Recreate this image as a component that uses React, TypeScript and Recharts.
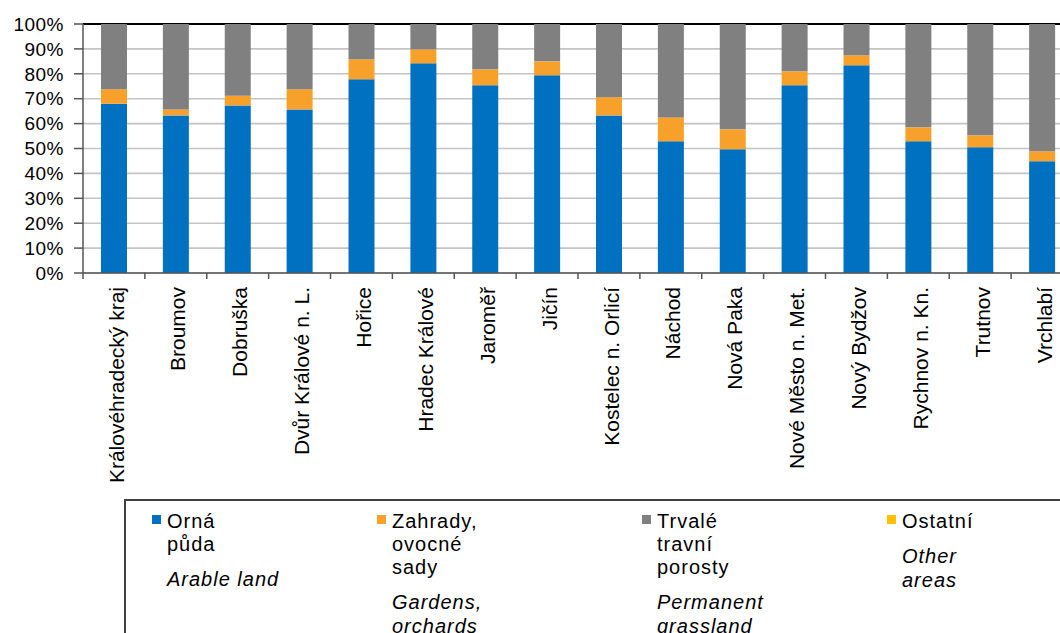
import { BarChart, Bar, XAxis, YAxis, CartesianGrid, Legend } from "recharts"

// okresy Královéhradeckého kraje
const categories = [
  "Královéhradecký kraj",
  "Broumov",
  "Dobruška",
  "Dvůr Králové n. L.",
  "Hořice",
  "Hradec Králové",
  "Jaroměř",
  "Jičín",
  "Kostelec n. Orlicí",
  "Náchod",
  "Nová Paka",
  "Nové Město n. Met.",
  "Nový Bydžov",
  "Rychnov n. Kn.",
  "Trutnov",
  "Vrchlabí",
]

// shares in %
const orna = [68.0, 63.3, 67.3, 65.7, 77.8, 84.2, 75.4, 79.4, 63.3, 52.9, 49.7, 75.4, 83.4, 52.9, 50.5, 44.9]
const zahrady = [5.8, 2.4, 3.9, 8.1, 8.0, 5.6, 6.4, 5.6, 7.3, 9.6, 8.0, 5.6, 4.0, 5.6, 4.8, 4.0]
const trvale = [26.2, 34.3, 28.8, 26.2, 14.2, 10.2, 18.2, 15.0, 29.4, 37.5, 42.3, 19.0, 12.6, 41.5, 44.7, 51.1]
const ostatni = [0, 0, 0, 0, 0, 0, 0, 0, 0, 0, 0, 0, 0, 0, 0, 0]

const yTicks = [0, 10, 20, 30, 40, 50, 60, 70, 80, 90, 100]

const seriesKeys = ["orna", "zahrady", "trvale", "ostatni"]
const seriesColors = ["#0070c0", "#f7a12a", "#808080", "#ffc000"]
const legendCz = [["Orná", "půda"], ["Zahrady,", "ovocné", "sady"], ["Trvalé", "travní", "porosty"], ["Ostatní"]]
const legendEn = [["Arable land"], ["Gardens,", "orchards"], ["Permanent", "grassland"], ["Other", "areas"]]

const data = categories.map((name, i) => ({
  name,
  orna: orna[i],
  zahrady: zahrady[i],
  trvale: trvale[i],
  ostatni: ostatni[i],
}))

const FONT = "'Liberation Sans', Arial, sans-serif"

const XTick = (props: any) => {
  const { x, y, payload } = props
  const left = x - (payload.offset || 0)
  return (
    <g>
      <line x1={left} x2={left} y1={y} y2={y + 6} stroke="#555" strokeWidth={1.5} />
      <g transform={`translate(${x + 2},${y + 14}) rotate(-90)`}>
        <text x={0} y={0} dy="0.36em" textAnchor="end" fontSize={21} fill="#000" fontFamily={FONT}>
          {payload.value}
        </text>
      </g>
    </g>
  )
}

const gridLine = (p: any) => {
  const top = Math.abs(p.y1 - p.y) < 1
  return (
    <line
      key={p.key}
      x1={p.x1}
      x2={p.x2}
      y1={p.y1}
      y2={p.y2}
      stroke={top ? "#000" : "#c4c4c4"}
      strokeWidth={top ? 2 : 1.6}
    />
  )
}

const LegendBox = (props: any) => {
  const payload = props.payload || []
  const colX = [43, 268, 533, 778]
  return (
    <svg width={960} height={140} style={{ display: "block" }}>
      <rect x={1} y={1} width={1000} height={200} fill="#fff" stroke="#404040" strokeWidth={2} />
      {seriesKeys.map((key, i) => {
        const item = payload.find((p: any) => p.dataKey === key)
        const color = item ? item.color : seriesColors[i]
        const cz = legendCz[i]
        const en = legendEn[i]
        const enStart = 29 + 23 * (cz.length - 1) + 35
        return (
          <g key={key} fontFamily={FONT} fontSize={20} fill="#000" letterSpacing={1}>
            <rect x={colX[i] - 15} y={16} width={9} height={9} fill={color} />
            {cz.map((t, j) => (
              <text key={"cz" + j} x={colX[i]} y={29 + 23 * j}>
                {t}
              </text>
            ))}
            {en.map((t, j) => (
              <text key={"en" + j} x={colX[i]} y={enStart + 24 * j} fontStyle="italic">
                {t}
              </text>
            ))}
          </g>
        )
      })}
    </svg>
  )
}

export default function App() {
  return (
    <div
      style={{
        position: "absolute",
        left: 0,
        top: 0,
        width: 1060,
        height: 633,
        overflow: "hidden",
        background: "#fff",
      }}
    >
      <BarChart
        width={1073}
        height={633}
        data={data}
        margin={{ top: 24, right: 0, left: 0, bottom: 0 }}
        barSize={26}
        style={{ fontFamily: FONT }}
      >
        <CartesianGrid vertical={false} horizontal={gridLine} />
        <XAxis
          dataKey="name"
          interval={0}
          height={360}
          tickSize={0}
          tickMargin={0}
          tickLine={false}
          axisLine={{ stroke: "#555", strokeWidth: 1.5 }}
          tick={<XTick />}
        />
        <YAxis
          width={83}
          domain={[0, 100]}
          ticks={yTicks}
          interval={0}
          tickFormatter={(v) => `${v}%`}
          tickSize={9}
          tickMargin={10}
          axisLine={{ stroke: "#555", strokeWidth: 1.5 }}
          tickLine={{ stroke: "#555", strokeWidth: 1.5 }}
          tick={{ fontSize: 19, fill: "#000", letterSpacing: 0.5 }}
        />
        <Legend
          layout="horizontal"
          verticalAlign="middle"
          align="center"
          wrapperStyle={{ left: 124, top: 499, width: 960, height: 140 }}
          content={<LegendBox />}
        />
        <Bar dataKey="orna" stackId="a" fill={seriesColors[0]} isAnimationActive={false} />
        <Bar dataKey="zahrady" stackId="a" fill={seriesColors[1]} isAnimationActive={false} />
        <Bar dataKey="trvale" stackId="a" fill={seriesColors[2]} isAnimationActive={false} />
        <Bar dataKey="ostatni" stackId="a" fill={seriesColors[3]} isAnimationActive={false} />
      </BarChart>
    </div>
  )
}
